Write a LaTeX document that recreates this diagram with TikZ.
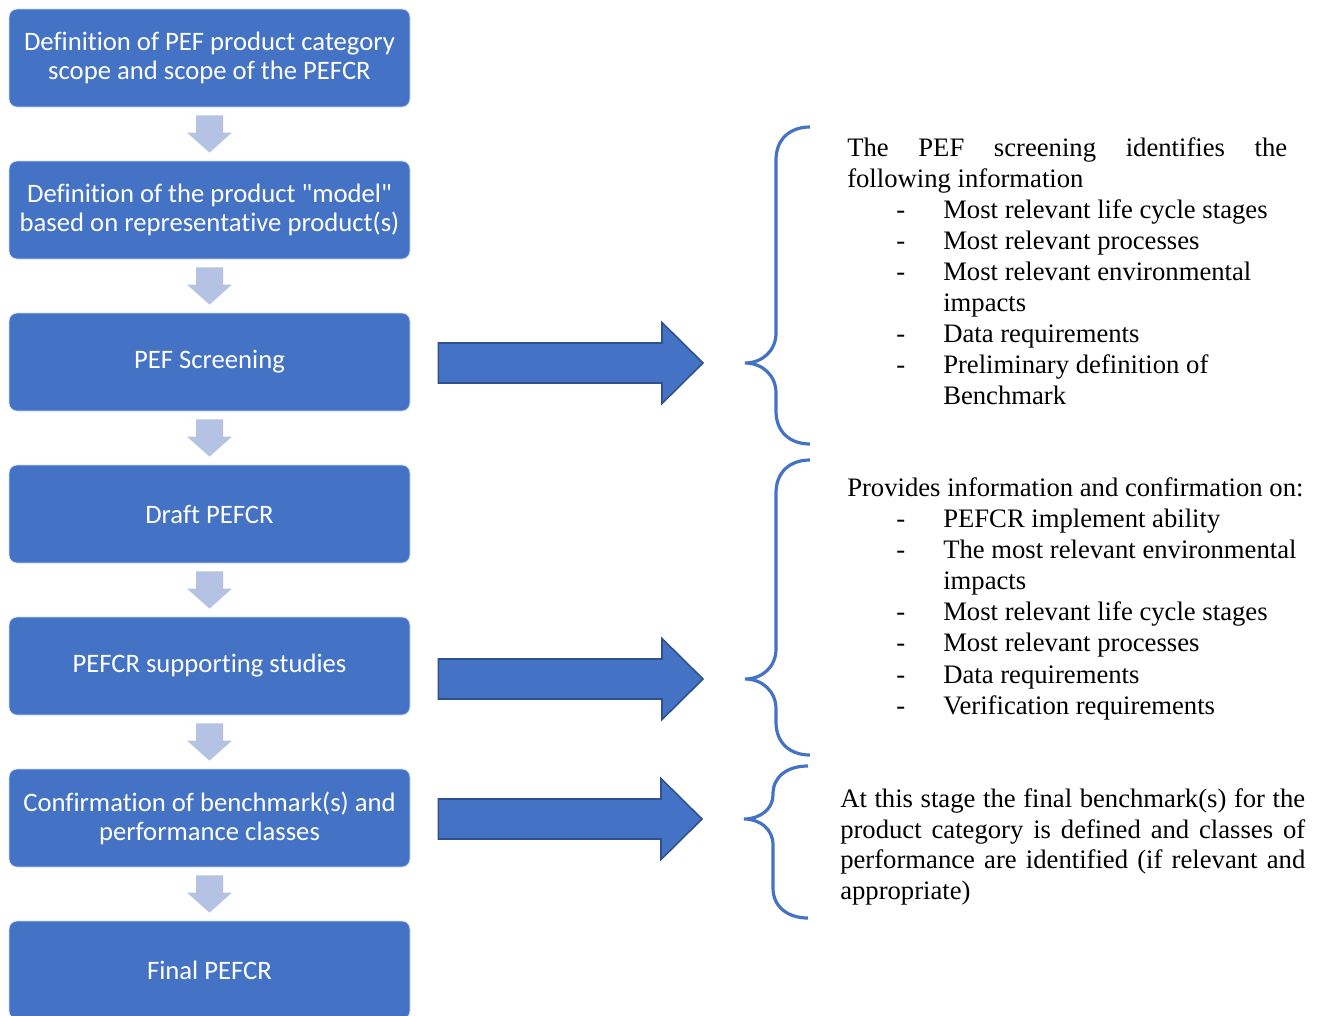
\documentclass[tikz,border=0pt]{standalone}
\usepackage{fontspec}
\setmainfont{Liberation Serif}
\newfontfamily\boxfont[Ligatures=NoCommon]{Carlito}
\usetikzlibrary{calc}
\newlength\pxu \setlength\pxu{0.75pt}
\definecolor{officeblue}{RGB}{68,114,196}
\definecolor{darkblue}{RGB}{47,82,143}
\definecolor{lightarrow}{RGB}{180,194,228}
\begin{document}
\begin{tikzpicture}[x=0.75pt,y=-0.75pt,
  stepbox/.style={fill=officeblue, draw=white!75!officeblue, line width=0.6pt, rounded corners=6pt,
    minimum width=401\pxu, minimum height=98\pxu, inner sep=0pt,
    text=white, align=center, font=\boxfont\fontsize{20}{21.75}\selectfont},
  txt/.style={anchor=base west, inner sep=0pt, font=\fontsize{20}{23.25}\selectfont},
  bigarrow/.style={fill=officeblue, draw=darkblue, line width=1.2pt, line join=miter},
  bracestyle/.style={draw=officeblue, line width=2.4pt, line cap=butt}]
\useasboundingbox (0,0) rectangle (1325,1015);

% boxes
\node[stepbox] (b1) at (209.5,58) {Definition of PEF product category\\scope and scope of the PEFCR};
\node[stepbox] (b2) at (209.5,210) {Definition of the product "model"\\based on representative product(s)};
\node[stepbox] (b3) at (209.5,362) {PEF Screening};
\node[stepbox] (b4) at (209.5,514) {Draft PEFCR};
\node[stepbox] (b5) at (209.5,666) {PEFCR supporting studies};
\node[stepbox] (b6) at (209.5,818) {Confirmation of benchmark(s) and\\performance classes};
\node[stepbox] (b7) at (209.5,970) {Final PEFCR};

% small down arrows between boxes
\foreach \a/\b in {b1/b2,b2/b3,b3/b4,b4/b5,b5/b6,b6/b7}{
  \path (\a.south) ++(0,8) coordinate (t) (\b.north) ++(0,-8) coordinate (p);
  \fill[lightarrow] ($(t)+(-13.5,0)$) -- ($(t)+(13.5,0)$) -- ($(p)+(13.5,-20)$) -- ($(p)+(22.5,-20)$)
    -- (p) -- ($(p)+(-22.5,-20)$) -- ($(p)+(-13.5,-20)$) -- cycle;
}

% braces (tips as named coordinates)
\coordinate (br1) at (745,363);
\coordinate (br2) at (745,679);
\coordinate (br3) at (744,819);
\draw[bracestyle] (810,127) .. controls (790,127) and (776,139) .. (776,160) -- (776,333)
  .. controls (776,351) and (762,363) .. (br1) .. controls (762,363) and (776,375) .. (776,393)
  -- (776,411) .. controls (776,432) and (790,444) .. (810,444);
\draw[bracestyle] (810,460) .. controls (790,460) and (776,472) .. (776,493) -- (776,649)
  .. controls (776,667) and (762,679) .. (br2) .. controls (762,679) and (776,691) .. (776,709)
  -- (776,722) .. controls (776,743) and (790,755) .. (810,755);
\draw[bracestyle] (808,766) .. controls (788,766) and (773,776) .. (773,794) -- (773,795)
  .. controls (773,809) and (760,819) .. (br3) .. controls (760,819) and (773,829) .. (773,845)
  -- (773,888) .. controls (773,907) and (788,918) .. (808,918);

% big arrows from boxes to braces
\foreach \bx/\br in {b3/br1, b5/br2, b6/br3}{
  \path (\bx.east) ++(28,0) coordinate (s0) (\br) ++(-42,0) coordinate (e);
  \path let \p1=(s0), \p2=(e) in coordinate (s) at (\x1,\y2);
  \draw[bigarrow] ($(s)+(0,-20)$) -- ($(e)+(-41,-20)$) -- ($(e)+(-41,-40.5)$) -- (e)
    -- ($(e)+(-41,40.5)$) -- ($(e)+(-41,20)$) -- ($(s)+(0,20)$) -- cycle;
}

% text block 1
\node[txt] (t1a) at (847,156) {\makebox[440\pxu][s]{The PEF screening identifies the}};
\node[txt] (t1b) at (847,187) {following information};
\foreach \y/\s [count=\i] in {218/Most relevant life cycle stages, 249/Most relevant processes,
   280/Most relevant environmental, 342/Data requirements, 373/Preliminary definition of}{
  \node[txt] (d1\i) at (896,\y) {-};
  \node[txt] (i1\i) at (943,\y) {\s};
}
\node[txt] (i1x) at (943,311) {impacts};
\node[txt] (i1y) at (943,404) {Benchmark};

% text block 2
\node[txt] (t2a) at (847,496) {Provides information and confirmation on:};
\foreach \y/\s [count=\i] in {527/PEFCR implement ability, 558/The most relevant environmental,
   620/Most relevant life cycle stages, 651/Most relevant processes, 683/Data requirements,
   714/Verification requirements}{
  \node[txt] (d2\i) at (896,\y) {-};
  \node[txt] (i2\i) at (943,\y) {\s};
}
\node[txt] (i2x) at (943,589) {impacts};

% text block 3
\node[txt] (t3a) at (840,807) {\makebox[465\pxu][s]{At this stage the final benchmark(s) for the}};
\node[txt] (t3b) at (840,838) {\makebox[465\pxu][s]{product category is defined and classes of}};
\node[txt] (t3c) at (840,868) {\makebox[465\pxu][s]{performance are identified (if relevant and}};
\node[txt] (t3d) at (840,899) {appropriate)};
\end{tikzpicture}
\end{document}
